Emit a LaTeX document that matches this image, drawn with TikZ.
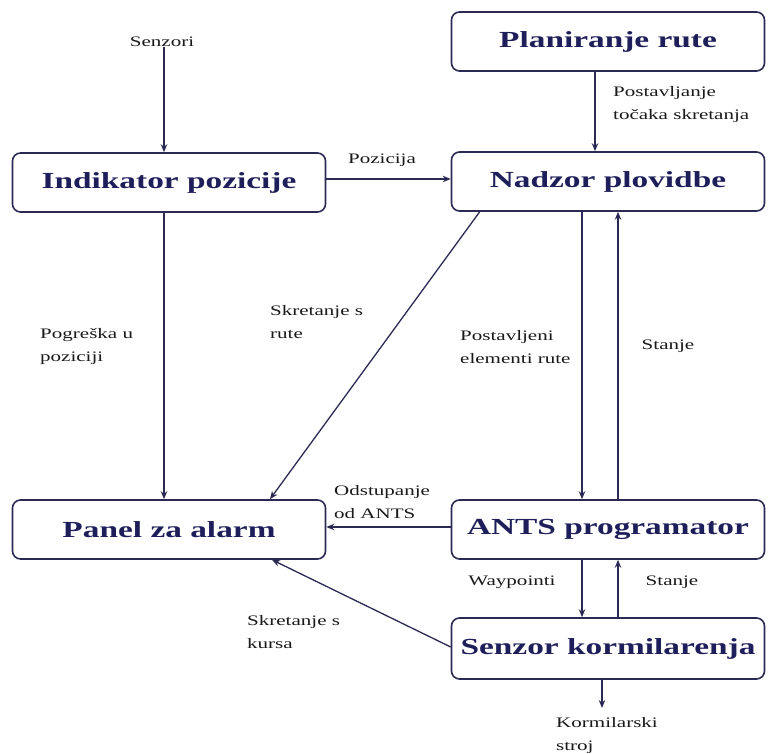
\documentclass[tikz,border=0pt]{standalone}
\usepackage{fontspec}
\setmainfont{Liberation Serif}[FakeStretch=1.45]
\usetikzlibrary{arrows.meta}
\definecolor{navy}{HTML}{1E1E5A}
\definecolor{edge}{HTML}{2A2A55}
\tikzset{
  box/.style={draw=edge, line width=1.6pt, rounded corners=8pt, fill=white,
    minimum width=313pt, minimum height=59pt, inner sep=0pt,
    text=navy, font=\fontsize{23}{26}\selectfont\bfseries},
  lbl/.style={font=\fontsize{14.5}{23}\selectfont, text=black!90, align=left, inner sep=0pt},
  arr/.style={draw=edge, line width=1.3pt, -{Stealth[length=8pt,width=6.5pt]}},
  thickarr/.style={arr, line width=2.2pt}
}
\begin{document}
\begin{tikzpicture}[x=1pt,y=-1pt]
\useasboundingbox (0,0) rectangle (769,754);
\node[box] (plan) at (608,41.5) {Planiranje rute};
\node[box] (ind) at (169,182.5) {Indikator pozicije};
\node[box] (nad) at (608,181.5) {Nadzor plovidbe};
\node[box] (pan) at (169,529.5) {Panel za alarm};
\node[box] (ants) at (608,529.5) {ANTS programator};
\node[box, minimum height=61pt] (sen) at (608,648.5) {Senzor kormilarenja};

\node[lbl] (senz) at (162,42) {Senzori};
\coordinate (kout) at (602,708);

\draw[arr] (senz.south -| 164,0) -- (164,0 |- ind.north);
\draw[arr] (595,0 |- plan.south) -- (595,0 |- nad.north);
\draw[arr] (ind.east |- 0,179) -- (nad.west |- 0,179);
\draw[arr] (164,0 |- ind.south) -- (164,0 |- pan.north);
\draw[arr] ([xshift=29pt]nad.south west) -- ([xshift=101pt]pan.north);
\draw[thickarr] (582,0 |- nad.south) -- (582,0 |- ants.north);
\draw[arr] (618,0 |- ants.north) -- (618,0 |- nad.south);
\draw[arr] (ants.west |- 0,527) -- (pan.east |- 0,527);
\draw[arr] (582,0 |- ants.south) -- (582,0 |- sen.north);
\draw[arr] (618,0 |- sen.north) -- (618,0 |- ants.south);
\draw[arr] (sen.west |- 0,647) -- ([xshift=103pt]pan.south);
\draw[arr] (602,0 |- sen.south) -- (kout);

\node[lbl, anchor=west] at (613,105) {Postavljanje\\točaka skretanja};
\node[lbl] at (382,160) {Pozicija};
\node[lbl, anchor=west] at (40,346) {Pogreška u\\poziciji};
\node[lbl, anchor=west] at (270,322) {Skretanje s\\rute};
\node[lbl, anchor=west] at (460,347) {Postavljeni\\elementi rute};
\node[lbl] at (668,346) {Stanje};
\node[lbl, anchor=west] at (334,502) {Odstupanje\\od ANTS};
\node[lbl] at (512,582) {Waypointi};
\node[lbl] at (672,582) {Stanje};
\node[lbl, anchor=west] at (247,632) {Skretanje s\\kursa};
\node[lbl, anchor=north west] at (556,717) {Kormilarski\\stroj};
\end{tikzpicture}
\end{document}
